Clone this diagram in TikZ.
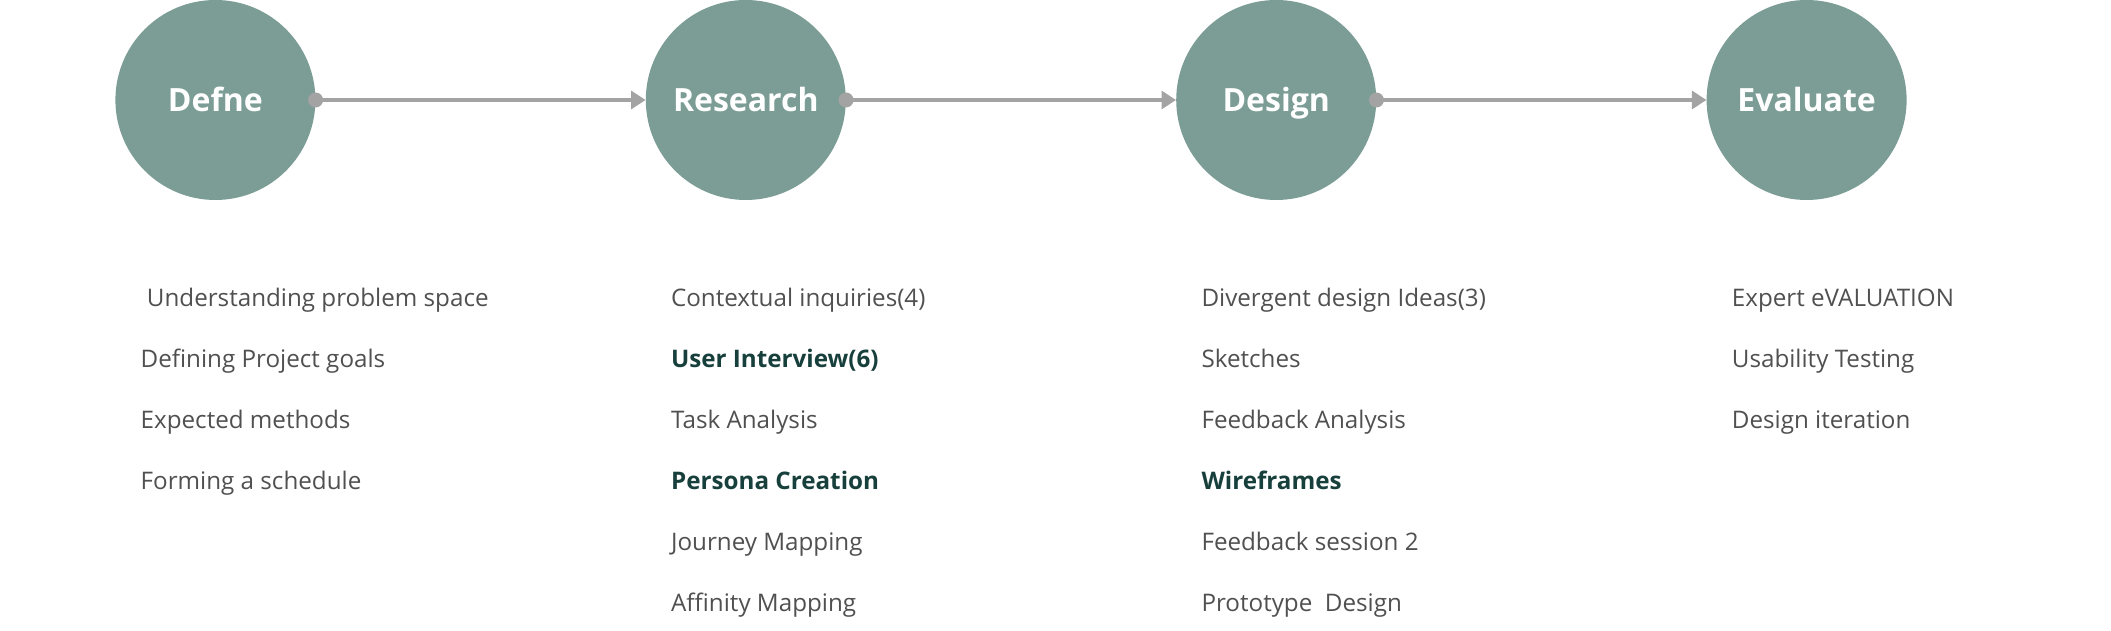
\documentclass[tikz,border=0pt]{standalone}
\usepackage{fontspec}
\setmainfont{Open Sans}
\usepackage{tikz}
\usetikzlibrary{positioning,arrows.meta}

\definecolor{stagefill}{HTML}{7B9D95}
\definecolor{linkgray}{HTML}{A3A3A3}
\definecolor{itemgray}{HTML}{505050}
\definecolor{itemdark}{HTML}{173F3B}

\newcommand{\strongitem}[1]{{\bfseries\color{itemdark}#1}}

\tikzset{
  stage/.style={circle, fill=stagefill, minimum size=200pt, inner sep=0pt,
    text=white, font=\fontsize{32}{36}\selectfont\bfseries,
    text height=23pt, text depth=0pt},
  flow/.style={draw=linkgray, line width=3.2pt,
    -{Triangle[length=14.5pt,width=18pt]}},
  item/.style={anchor=base west, inner sep=0pt, text=itemgray,
    font=\fontsize{24.2}{28}\selectfont}
}

\begin{document}
\begin{tikzpicture}[x=1pt,y=1pt, line cap=round, line join=round]
\useasboundingbox (0,0) rectangle (2111,631);

% stages
\foreach \name/\title [count=\i] in {def/Defne,res/Research,des/Design,eva/Evaluate} {
  \node[stage] (\name) at ({215.4+530.4*(\i-1)},531) {\title};
}

% links between stages
\foreach \a/\b in {def/res,res/des,des/eva} {
  \draw[flow] (\a.east) -- (\b.west);
  \fill[linkgray] (\a.east) circle (7.5);
}

% activities under each stage
\foreach \txt [count=\j] in {\ Understanding problem space,Defining Project goals,
    Expected methods,Forming a schedule} {
  \node[item] (def-\j) at (140.5,{324.5-61*(\j-1)}) {\txt};
}
\foreach \txt [count=\j] in {Contextual inquiries(4),\strongitem{User Interview(6)},
    Task Analysis,\strongitem{Persona Creation},Journey Mapping,Affinity Mapping} {
  \node[item] (res-\j) at (670.9,{324.5-61*(\j-1)}) {\txt};
}
\foreach \txt [count=\j] in {Divergent design Ideas(3),Sketches,Feedback Analysis,
    \strongitem{Wireframes},Feedback session 2,Prototype\ \ Design} {
  \node[item] (des-\j) at (1201.3,{324.5-61*(\j-1)}) {\txt};
}
\foreach \txt [count=\j] in {Expert eVALUATION,Usability Testing,Design iteration} {
  \node[item] (eva-\j) at (1731.7,{324.5-61*(\j-1)}) {\txt};
}
\end{tikzpicture}
\end{document}
